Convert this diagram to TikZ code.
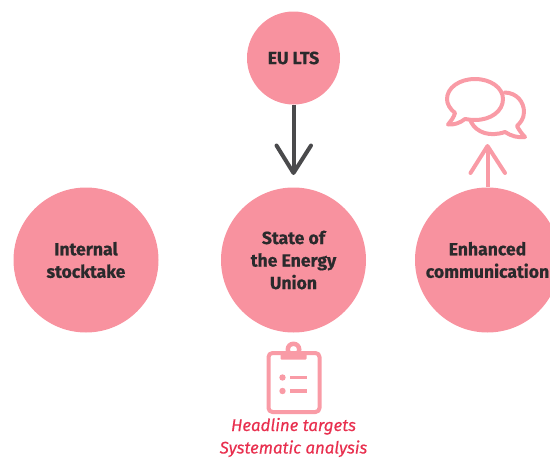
\documentclass[tikz,border=0pt]{standalone}
\usepackage{fontspec}
\setmainfont{Fira Sans}
\newfontfamily\labelfont[FakeBold=0.6]{Fira Sans Bold}
\newfontfamily\capfont[FakeBold=0.35]{Fira Sans Italic}
\definecolor{pinkfill}{HTML}{F8929F}
\definecolor{iconpink}{HTML}{F99BA6}
\definecolor{darktxt}{HTML}{2A2A2C}
\definecolor{arrowgrey}{HTML}{4A4A4C}
\definecolor{redtxt}{HTML}{E8304F}
\tikzset{
  blob/.style={circle,fill=pinkfill,draw=none,inner sep=0pt,align=center,text=darktxt,
    font=\fontsize{17.6}{22.5}\labelfont},
  big/.style={blob,minimum size=145pt},
  small/.style={blob,minimum size=93pt},
  openarrow/.style={line width=4pt,line cap=round,line join=round},
  icon/.style={draw=iconpink,line width=4pt,line join=round,line cap=round},
  caption/.style={text=redtxt,font=\fontsize{16.8}{22.5}\capfont,align=center,inner sep=0pt}
}
\begin{document}
\begin{tikzpicture}[x=1pt,y=-1pt]
\useasboundingbox (0,0) rectangle (550,458);
\clip (0,0) rectangle (550,458);
\node[small] (lts) at (293.5,58) {EU LTS};
\node[big] (stock) at (86,260) {Internal\\stocktake};
\node[big] (union) at (293.5,260) {State of\\the Energy\\Union};
\node[big] (comm) at (487.5,260) {Enhanced\\communication};
% arrow down
\coordinate (dtip) at (293.5,173);
\draw[openarrow,arrowgrey,line cap=butt] (lts.south) -- (dtip);
\draw[openarrow,arrowgrey] (276.5,145.5) -- (dtip) -- (311,145.5);
% arrow up
\coordinate (utip) at (487.5,146);
\draw[openarrow,iconpink,line cap=butt] (comm.north) -- (utip);
\draw[openarrow,iconpink] (470.5,173) -- (utip) -- (505,173);
% speech bubbles
\draw[icon] (505,92.5) .. controls (517,93) and (524,102) .. (524,112)
  .. controls (524,119) and (520,123) .. (517,126)
  .. controls (519,130) and (522,134) .. (525,137)
  .. controls (518,138) and (511,136) .. (505,132)
  .. controls (490,137) and (477,133) .. (471,122);
\draw[icon] (475,79) .. controls (491,79) and (503,88) .. (503,99)
  .. controls (503,111) and (491,120) .. (475,120)
  .. controls (471,120) and (468,119.5) .. (465,119)
  .. controls (460,123) and (454,125) .. (448,124.5)
  .. controls (451,121) and (454,117) .. (455,113)
  .. controls (450,109) and (447,104) .. (447,99)
  .. controls (447,88) and (459,79) .. (475,79) -- cycle;
% clipboard
\draw[icon,rounded corners=4pt] (268.5,353) rectangle (319.5,412);
\fill[iconpink,rounded corners=1pt] (280.5,351) -- (306.5,351) -- (306.5,359.5) -- (280.5,359.5) -- cycle;
\fill[iconpink,even odd rule] (293.5,349.5) circle (8) (293.5,349.5) circle (3.6);
\fill[iconpink] (282.5,377.5) circle (3.2) (282.5,391) circle (3.2);
\draw[iconpink,line width=3.4pt] (290,377.5) -- (307,377.5) (290,391) -- (307,391);
\node[caption] (cap) at (293.5,437.5) {Headline targets\\Systematic analysis};
\end{tikzpicture}
\end{document}
